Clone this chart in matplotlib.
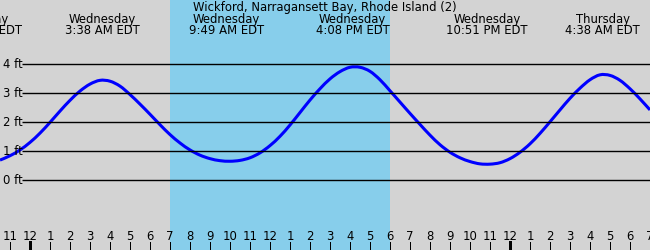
import matplotlib
matplotlib.use("Agg")
import matplotlib.pyplot as plt
from matplotlib.path import Path
from matplotlib.patches import PathPatch

# hours after Wednesday midnight, tide height in ft
hours = [-1.5, -1.0, -0.5, 0.0, 0.5, 1.0, 1.5, 2.0, 2.5, 3.0, 3.5,
         4.0, 4.5, 5.0, 5.5, 6.0, 6.5, 7.0, 7.5, 8.0, 8.5, 9.0, 9.5, 10.0,
         10.5, 11.0, 11.5, 12.0, 12.5, 13.0, 13.5, 14.0, 14.5, 15.0, 15.5, 16.0, 16.5,
         17.0, 17.5, 18.0, 18.5, 19.0, 19.5, 20.0, 20.5, 21.0, 21.5, 22.0, 22.5, 23.0,
         23.5, 24.0, 24.5, 25.0, 25.5, 26.0, 26.5, 27.0, 27.5, 28.0, 28.5, 29.0,
         29.5, 30.0, 30.5, 31.0]
height_ft = [0.70, 0.85, 1.05, 1.31, 1.63, 2.00, 2.39, 2.76, 3.08, 3.32, 3.45,
             3.42, 3.25, 2.96, 2.63, 2.28, 1.92, 1.58, 1.29, 1.05, 0.87, 0.75, 0.68, 0.66,
             0.69, 0.78, 0.95, 1.20, 1.52, 1.91, 2.34, 2.77, 3.16, 3.50, 3.75, 3.90, 3.90,
             3.76, 3.47, 3.09, 2.70, 2.31, 1.93, 1.56, 1.23, 0.97, 0.78, 0.65, 0.57, 0.56,
             0.61, 0.75, 0.97, 1.26, 1.62, 2.02, 2.43, 2.83, 3.18, 3.47, 3.64, 3.62,
             3.45, 3.16, 2.81, 2.43]

# high / low events shown at the top
event_hours = [-2.25, 3.633, 9.817, 16.133, 22.85, 28.633]
event_days = ["Tuesday", "Wednesday", "Wednesday", "Wednesday", "Wednesday", "Thursday"]
event_times = ["9:24 PM EDT", "3:38 AM EDT", "9:49 AM EDT", "4:08 PM EDT",
               "10:51 PM EDT", "4:38 AM EDT"]

grid_ft = [0, 1, 2, 3, 4]
tick_hours = list(range(-1, 32))
tick_labels = ["11", "12", "1", "2", "3", "4", "5", "6", "7", "8", "9", "10", "11",
               "12", "1", "2", "3", "4", "5", "6", "7", "8", "9", "10", "11",
               "12", "1", "2", "3", "4", "5", "6", "7"]
midnights = [0, 24]
daylight = (7, 18)

title = "Wickford, Narragansett Bay, Rhode Island (2)"
FS = 8.4


def smooth_path(xs, ys):
    # catmull-rom through the read points, drawn as cubic beziers
    pts = list(zip(xs, ys))
    ext = [pts[0]] + pts + [pts[-1]]
    verts = [pts[0]]
    codes = [Path.MOVETO]
    for i in range(1, len(ext) - 2):
        p0, p1, p2, p3 = ext[i - 1], ext[i], ext[i + 1], ext[i + 2]
        c1 = (p1[0] + (p2[0] - p0[0]) / 6, p1[1] + (p2[1] - p0[1]) / 6)
        c2 = (p2[0] - (p3[0] - p1[0]) / 6, p2[1] - (p3[1] - p1[1]) / 6)
        verts += [c1, c2, p2]
        codes += [Path.CURVE4] * 3
    return Path(verts, codes)


W, H = 650, 250
fig = plt.figure(figsize=(W / 100, H / 100), dpi=100, facecolor="#d3d3d3")
ax = fig.add_axes([0, 0, 1, 1])
ax.set_facecolor("#d3d3d3")
ax.set_xlim(-1.5, 31)
ax.set_ylim(-2.40, 6.22)
ax.set_axis_off()

ax.axvspan(daylight[0], daylight[1], color="#87ceeb", lw=0)

ax.hlines(grid_ft, -0.4, 31, colors="black", lw=1.0)
for f in grid_ft:
    ax.text(-1.35, f, f"{f} ft", ha="left", va="center", fontsize=FS, color="black")

ax.add_patch(PathPatch(smooth_path(hours, height_ft), fill=False,
                       edgecolor="#0000ff", lw=2.2))

tr = ax.get_xaxis_transform()
ax.text(0.5, 1 - 7 / H, title, transform=ax.transAxes, ha="center", va="center",
        fontsize=FS)
for h, d, t in zip(event_hours, event_days, event_times):
    ax.text(h, 1 - 19 / H, d, transform=tr, ha="center", va="center", fontsize=FS)
    ax.text(h, 1 - 31 / H, t, transform=tr, ha="center", va="center", fontsize=FS)

for h, lab in zip(tick_hours, tick_labels):
    ax.text(h, 1 - 236 / H, lab, transform=tr, ha="center", va="center", fontsize=FS)
    lw = 3 if h in midnights else 1
    ax.plot([h, h], [0, 8 / H], transform=tr, color="black", lw=lw * 0.72)

fig.savefig("out.png", dpi=100, facecolor=fig.get_facecolor())
